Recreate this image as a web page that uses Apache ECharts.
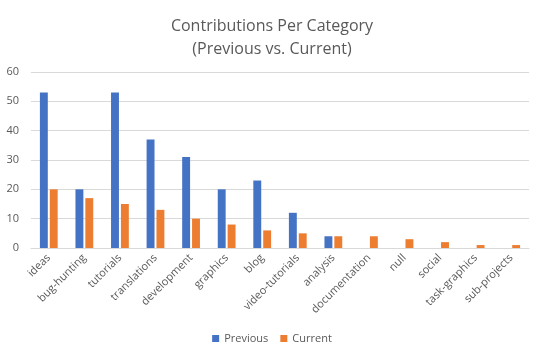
<!DOCTYPE html>
<html><head><meta charset="utf-8">
<script src="https://cdn.jsdelivr.net/npm/echarts@6/dist/echarts.min.js"></script>
<style>html,body{margin:0;padding:0;background:#fff}#c{width:544px;height:358px}</style>
</head><body><div id="c"></div>
<script>
const categories = ['ideas','bug-hunting','tutorials','translations','development','graphics','blog','video-tutorials','analysis','documentation','null','social','task-graphics','sub-projects'];
const previous = [53,20,53,37,31,20,23,12,4,0,0,0,0,0];
const current = [20,17,15,13,10,8,6,5,4,4,3,2,1,1];
const yTicks = {min:0,max:60,interval:10};
const font = '"Open Sans", "Liberation Sans", sans-serif';
const chart = echarts.init(document.getElementById('c'));
chart.setOption({
  animation:false,
  title:{text:'Contributions Per Category\n(Previous vs. Current)',left:'center',top:10,
    textStyle:{fontFamily:font,fontSize:16,fontWeight:'normal',color:'#595959',lineHeight:23}},
  grid:{left:31,right:15,top:72,bottom:110},
  legend:{bottom:9,left:'center',itemWidth:7,itemHeight:7,itemGap:12,icon:'rect',
    textStyle:{fontFamily:font,fontSize:11,color:'#595959'},data:['Previous','Current']},
  xAxis:{type:'category',data:categories,
    axisLine:{lineStyle:{color:'#d9d9d9',width:1}},axisTick:{show:false},
    axisLabel:{rotate:45,interval:0,fontFamily:font,fontSize:11,color:'#595959',margin:8}},
  yAxis:{type:'value',min:yTicks.min,max:yTicks.max,interval:yTicks.interval,
    axisLine:{show:false},axisTick:{show:false},
    splitLine:{lineStyle:{color:'#d9d9d9',width:1}},
    axisLabel:{fontFamily:font,fontSize:11,color:'#595959',margin:12}},
  series:[
    {name:'Previous',type:'bar',data:previous,itemStyle:{color:'#4472c4'},barGap:'25%',barCategoryGap:'50%'},
    {name:'Current',type:'bar',data:current,itemStyle:{color:'#ed7d31'}}
  ]
});
</script></body></html>
